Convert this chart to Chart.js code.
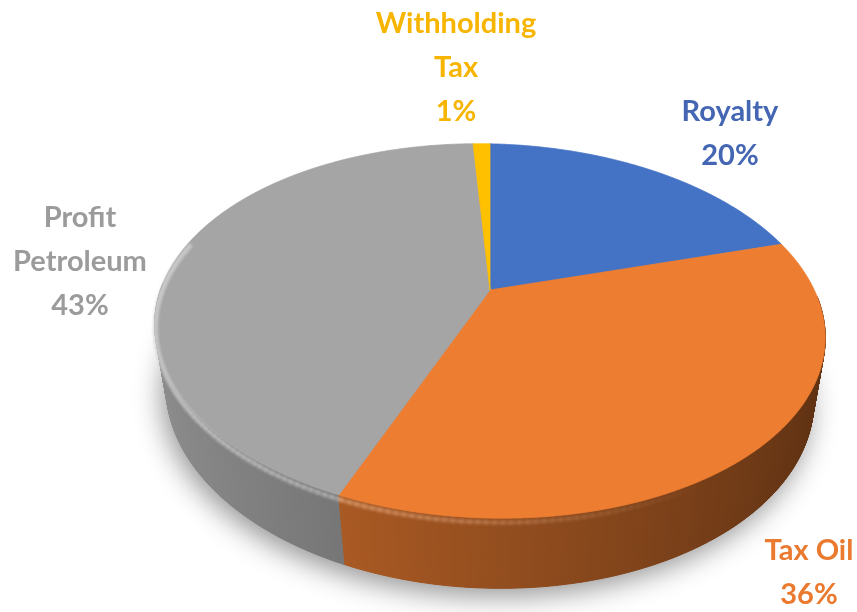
<!DOCTYPE html>
<html>
<head>
<meta charset="utf-8">
<script src="https://cdn.jsdelivr.net/npm/chart.js@4.4.1/dist/chart.umd.min.js"></script>
<style>
  html, body { margin: 0; padding: 0; background: #fff; }
</style>
</head>
<body>
<canvas id="pie" width="857" height="612"></canvas>
<script>
// Revenue split, drawn as a tilted 3D pie.
const categories = ['Royalty', 'Tax Oil', 'Profit Petroleum', 'Withholding Tax'];
const shares = [20, 36, 43, 1];
const sliceColors = ['#4472C4', '#ED7D31', '#A5A5A5', '#FFC000'];
const labelColors = ['#4466B3', '#E97A2F', '#9B9B9B', '#F7B500'];

// disc projection settings
const TILT = 33 * Math.PI / 180;
const EYE = 3.83;      // camera distance, in radii
const THICK = 0.236;   // disc thickness, in radii
const SHEAR = 0.02;
const SPREAD = 1.128;  // top face radius relative to the library's outerRadius

// data label anchors: centre x, first baseline
const labelSpots = [[730, 121], [809, 560], [80, 227], [456, 33]];
const LINE_H = 44;
const LABEL_FONT = 'bold 29px Lato, "Open Sans", sans-serif';

function project(cx, cy, R, ang, h) {
  const X = Math.cos(ang), Z = Math.sin(ang);
  const s = Math.sin(TILT), c = Math.cos(TILT);
  const yv = Z * s + h * c;
  const d = Z * c - h * s;
  const k = EYE / (EYE - d);
  const x = cx + R * X * k;
  return [x, cy + R * yv * k + SHEAR * (x - cx)];
}

function rgb(hex) {
  const n = parseInt(hex.slice(1), 16);
  return [(n >> 16) & 255, (n >> 8) & 255, n & 255];
}
function shade(hex, f) {
  const [r, g, b] = rgb(hex);
  return `rgb(${Math.round(r * f)},${Math.round(g * f)},${Math.round(b * f)})`;
}
function tint(hex, t) {
  const [r, g, b] = rgb(hex);
  return `rgb(${Math.round(r + (255 - r) * t)},${Math.round(g + (255 - g) * t)},${Math.round(b + (255 - b) * t)})`;
}

const disc3d = {
  id: 'disc3d',
  beforeDatasetsDraw(chart) {
    const ctx = chart.ctx;
    const arcs = chart.getDatasetMeta(0).data;
    const cx = arcs[0].x, cy = arcs[0].y, R = arcs[0].outerRadius * SPREAD;
    const P = (ang, h) => project(cx, cy, R, ang, h);
    const STEP = 0.004;

    // soft shadow under the base
    ctx.save();
    ctx.beginPath();
    for (let t = 0; t <= Math.PI * 2 + 1e-9; t += 0.02) {
      const p = P(t, THICK);
      if (t === 0) ctx.moveTo(p[0], p[1]); else ctx.lineTo(p[0], p[1]);
    }
    ctx.closePath();
    ctx.shadowColor = 'rgba(0,0,0,0.42)';
    ctx.shadowBlur = 28;
    ctx.shadowOffsetY = 8;
    ctx.shadowOffsetX = -4;
    ctx.fillStyle = '#888';
    ctx.fill();
    ctx.restore();

    // side wall strips on the front half, painted back to front
    const strips = [];
    arcs.forEach((arc, i) => {
      const lo = Math.max(arc.startAngle, 0), hi = Math.min(arc.endAngle, Math.PI);
      for (let t = lo; t < hi; t += STEP) {
        strips.push({ t0: t, t1: Math.min(t + STEP, hi), color: sliceColors[i] });
      }
    });
    strips.sort((a, b) => Math.sin((a.t0 + a.t1) / 2) - Math.sin((b.t0 + b.t1) / 2));
    ctx.save();
    ctx.lineWidth = 1;
    strips.forEach(st => {
      const m = (st.t0 + st.t1) / 2;
      const col = shade(st.color, 0.63 - 0.24 * Math.cos(m));
      const a = P(st.t0, 0), b = P(st.t1, 0), c = P(st.t1, THICK), d = P(st.t0, THICK);
      ctx.beginPath();
      ctx.moveTo(a[0], a[1]); ctx.lineTo(b[0], b[1]); ctx.lineTo(c[0], c[1]); ctx.lineTo(d[0], d[1]);
      ctx.closePath();
      ctx.fillStyle = col;
      ctx.strokeStyle = col;
      ctx.fill();
      ctx.stroke();
    });
    ctx.restore();

    // top face
    ctx.save();
    ctx.lineWidth = 0.8;
    arcs.forEach((arc, i) => {
      ctx.beginPath();
      ctx.moveTo(cx, cy);
      for (let t = arc.startAngle; t < arc.endAngle; t += STEP) {
        const p = P(t, 0);
        ctx.lineTo(p[0], p[1]);
      }
      const e = P(arc.endAngle, 0);
      ctx.lineTo(e[0], e[1]);
      ctx.closePath();
      ctx.fillStyle = sliceColors[i];
      ctx.strokeStyle = sliceColors[i];
      ctx.fill();
      ctx.stroke();
    });
    ctx.restore();

    // rounded rim catching the light along the front edge
    ctx.save();
    ctx.filter = 'blur(1.5px)';
    ctx.lineWidth = 4;
    ctx.lineCap = 'round';
    arcs.forEach((arc, i) => {
      const lo = Math.max(arc.startAngle, 0.1), hi = Math.min(arc.endAngle, Math.PI + 0.25);
      for (let t = lo; t < hi; t += 0.02) {
        const a = P(t, 0.014), b = P(Math.min(t + 0.02, hi), 0.014);
        ctx.globalAlpha = Math.max(0, 0.7 * (0.35 - 0.65 * Math.cos(t)));
        ctx.strokeStyle = tint(sliceColors[i], 0.5);
        ctx.beginPath();
        ctx.moveTo(a[0], a[1]);
        ctx.lineTo(b[0], b[1]);
        ctx.stroke();
      }
    });
    ctx.restore();
    return false;
  },
  afterDraw(chart) {
    const ctx = chart.ctx;
    ctx.save();
    ctx.font = LABEL_FONT;
    ctx.textAlign = 'center';
    ctx.textBaseline = 'alphabetic';
    const total = shares.reduce((s, v) => s + v, 0);
    categories.forEach((name, i) => {
      // wrap long names onto two lines
      const lines = [];
      let cur = '';
      name.split(' ').forEach(w => {
        const next = cur ? cur + ' ' + w : w;
        if (cur && ctx.measureText(next).width > 150) { lines.push(cur); cur = w; } else cur = next;
      });
      lines.push(cur);
      lines.push(Math.round(shares[i] / total * 100) + '%');
      ctx.fillStyle = labelColors[i];
      const [x, y] = labelSpots[i];
      lines.forEach((ln, j) => ctx.fillText(ln, x, y + j * LINE_H));
    });
    ctx.restore();
  }
};

new Chart(document.getElementById('pie'), {
  type: 'pie',
  data: {
    labels: categories,
    datasets: [{ data: shares, backgroundColor: sliceColors, borderWidth: 0, hoverOffset: 0 }]
  },
  options: {
    responsive: false,
    animation: false,
    layout: { padding: { left: 123, right: 0, top: 0, bottom: 32 } },
    plugins: { legend: { display: false }, tooltip: { enabled: false } }
  },
  plugins: [disc3d]
});
</script>
</body>
</html>
